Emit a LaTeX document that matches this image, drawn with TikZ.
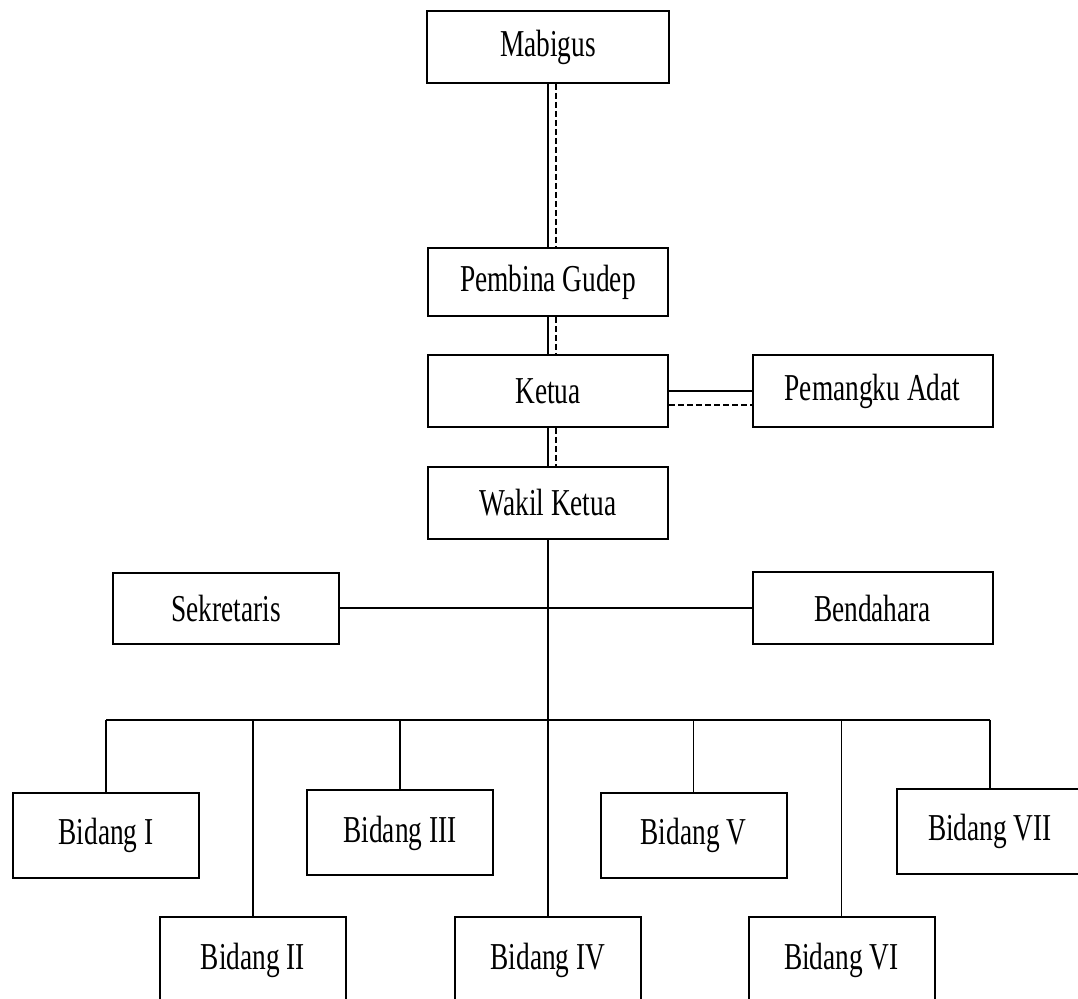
\documentclass[tikz,border=0pt]{standalone}
\usepackage{fontspec}
\setmainfont{Liberation Serif}[FakeStretch=0.72]
\tikzset{
  unit/.style={draw,line width=1pt,minimum width=120pt,minimum height=36pt,
    inner sep=0pt,font=\fontsize{19}{22}\selectfont},
  bidang/.style={unit,minimum width=93pt,minimum height=42.5pt},
  link/.style={line width=0.75pt},
  dashlink/.style={line width=0.75pt,dash pattern=on 3pt off 1.5pt}
}
\begin{document}
\begin{tikzpicture}[x=0.5pt,y=-0.5pt]
  \useasboundingbox (0,0) rectangle (1078,999);
  \clip (0,0) rectangle (1078,999);

  \node[unit,minimum width=121pt] (mabigus) at (548,47) {Mabigus};
  \node[unit,minimum height=34pt] (pembina) at (548,282) {Pembina Gudep};
  \node[unit] (ketua) at (548,391) {Ketua};
  \node[unit] (pemangku) at (872.5,391) {Pemangku Adat};
  \node[unit] (wakil) at (548,503) {Wakil Ketua};
  \node[unit,minimum width=113pt,minimum height=35.5pt] (sekretaris) at (226,608.5) {Sekretaris};
  \node[unit] (bendahara) at (872.5,608.5) {Bendahara};

  \foreach \name/\num/\x/\y in {b1/I/106/835.5, b2/II/253/960, b3/III/400/833,
      b4/IV/548/960, b5/V/693.5/835.5, b6/VI/841.5/960, b7/VII/990/831.5}
    \node[bidang] (\name) at (\x,\y) {Bidang \num};

  \draw[link] (mabigus.south) -- (pembina.north);
  \draw[dashlink] ([xshift=4pt]mabigus.south) -- ([xshift=4pt]pembina.north);
  \draw[link] (pembina.south) -- (ketua.north);
  \draw[dashlink] ([xshift=4pt]pembina.south) -- ([xshift=4pt]ketua.north);
  \draw[link] (ketua.south) -- (wakil.north);
  \draw[dashlink] ([xshift=4pt]ketua.south) -- ([xshift=4pt]wakil.north);
  \draw[link] (ketua.east) -- (pemangku.west);
  \draw[dashlink] ([yshift=-7pt]ketua.east) -- ([yshift=-7pt]pemangku.west);

  \draw[link] (wakil.south) -- (b4.north);
  \draw[link,line width=1pt] (sekretaris) -- (bendahara);

  \coordinate (bar) at (548,720);
  \draw[link,line width=1pt] (b1.north |- bar) -- (b7.north |- bar);
  \foreach \n in {b1,b2,b3,b5,b6,b7}
    \draw[link] (\n.north |- bar) -- (\n.north);
\end{tikzpicture}
\end{document}
